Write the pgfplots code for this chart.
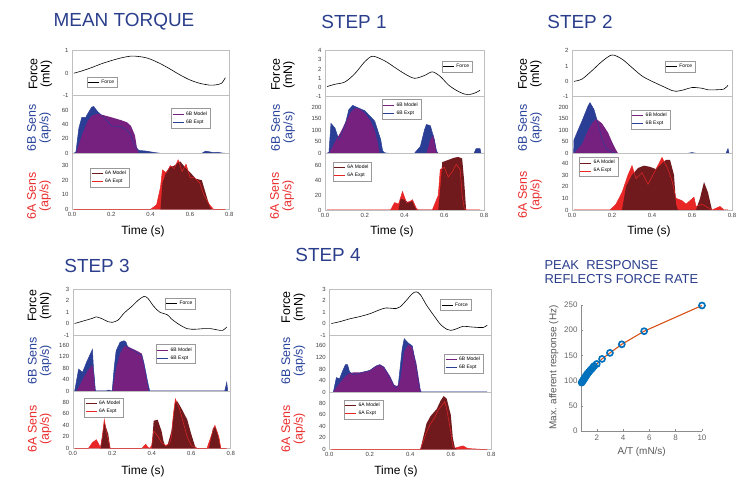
\documentclass[border=0pt]{standalone}
\usepackage{fontspec}
\setmainfont{Liberation Sans}
\usepackage{pgfplots}
\pgfplotsset{compat=1.18}
\usepackage{pgfplotstable}

\definecolor{titleblue}{RGB}{42,62,140}
\definecolor{expB}{RGB}{42,62,150}
\definecolor{modB}{RGB}{118,32,128}
\definecolor{expA}{RGB}{232,38,38}
\definecolor{modA}{RGB}{112,26,30}
\definecolor{labB}{RGB}{40,66,155}
\definecolor{labA}{RGB}{235,45,45}
\definecolor{mblue}{RGB}{0,114,189}
\definecolor{morange}{RGB}{217,83,25}

% ---- MEAN TORQUE
\pgfplotstableread[row sep=\\]{x y\\ 0.01 0\\ 0.05 0.1\\ 0.1 0.25\\ 0.15 0.42\\ 0.2 0.56\\ 0.25 0.68\\ 0.3 0.76\\ 0.33 0.75\\ 0.37 0.7\\ 0.4 0.62\\ 0.45 0.42\\ 0.5 0.18\\ 0.55 -0.08\\ 0.6 -0.3\\ 0.65 -0.45\\ 0.7 -0.53\\ 0.73 -0.52\\ 0.76 -0.45\\ 0.78 -0.2\\}\fA
\pgfplotstableread[row sep=\\]{x y\\ 0.01 0\\ 0.02 2\\ 0.035 35\\ 0.05 50\\ 0.07 50\\ 0.08 55\\ 0.1 64\\ 0.11 65\\ 0.13 58\\ 0.15 53\\ 0.18 45\\ 0.2 38\\ 0.25 37\\ 0.28 32\\ 0.3 25\\ 0.32 10\\ 0.34 4\\ 0.38 3\\ 0.42 1\\ 0.45 0\\ 0.66 0\\ 0.68 3\\ 0.7 2\\ 0.72 1\\ 0.74 1.5\\ 0.76 0.5\\ 0.78 0\\}\bexA
\pgfplotstableread[row sep=\\]{x y\\ 0.02 0\\ 0.05 25\\ 0.08 45\\ 0.1 52\\ 0.13 55\\ 0.16 53\\ 0.2 50\\ 0.25 46\\ 0.28 43\\ 0.3 38\\ 0.32 25\\ 0.33 8\\ 0.34 0\\}\bmoA
\pgfplotstableread[row sep=\\]{x y\\ 0.01 0\\ 0.4 0\\ 0.43 3\\ 0.45 15\\ 0.46 27\\ 0.48 25\\ 0.5 30\\ 0.52 28\\ 0.54 34\\ 0.56 26\\ 0.58 31\\ 0.6 22\\ 0.62 22\\ 0.65 18\\ 0.67 10\\ 0.7 3\\ 0.72 0\\ 0.78 0\\}\aexA
\pgfplotstableread[row sep=\\]{x y\\ 0.45 0\\ 0.46 18\\ 0.48 26\\ 0.5 29\\ 0.52 30\\ 0.55 33\\ 0.58 28\\ 0.6 25.5\\ 0.63 21\\ 0.66 20\\ 0.68 11\\ 0.7 2\\ 0.71 0\\}\amoA

% ---- STEP 1
\pgfplotstableread[row sep=\\]{x y\\ 0.01 0.1\\ 0.05 0.35\\ 0.1 0.6\\ 0.15 1.5\\ 0.2 2.8\\ 0.24 3.4\\ 0.3 2.9\\ 0.35 2.2\\ 0.4 1.5\\ 0.45 1.0\\ 0.5 1.3\\ 0.54 1.7\\ 0.58 1.2\\ 0.62 0.3\\ 0.66 -0.3\\ 0.7 -0.7\\ 0.73 -0.75\\ 0.76 -0.55\\ 0.78 -0.3\\}\fB
\pgfplotstableread[row sep=\\]{x y\\ 0.01 0\\ 0.02 5\\ 0.03 130\\ 0.05 110\\ 0.07 58\\ 0.1 120\\ 0.12 190\\ 0.14 208\\ 0.16 200\\ 0.2 185\\ 0.25 140\\ 0.28 60\\ 0.29 10\\ 0.3 2\\ 0.32 0\\ 0.45 0\\ 0.48 30\\ 0.5 100\\ 0.51 125\\ 0.53 120\\ 0.55 60\\ 0.56 10\\ 0.57 0\\ 0.75 0\\ 0.76 20\\ 0.78 20\\ 0.785 0\\}\bexB
\pgfplotstableread[row sep=\\]{x y\\ 0.02 0\\ 0.05 50\\ 0.08 94\\ 0.1 130\\ 0.13 180\\ 0.15 195\\ 0.17 195\\ 0.2 175\\ 0.23 140\\ 0.25 100\\ 0.265 50\\ 0.275 0\\ 0.51 0\\ 0.53 60\\ 0.545 80\\ 0.555 40\\ 0.565 0\\}\bmoB
\pgfplotstableread[row sep=\\]{x y\\ 0.01 0\\ 0.33 0\\ 0.35 10\\ 0.37 8\\ 0.39 25\\ 0.41 10\\ 0.43 12\\ 0.44 14\\ 0.46 2\\ 0.47 0\\ 0.54 0\\ 0.57 20\\ 0.58 55\\ 0.6 58\\ 0.62 45\\ 0.64 52\\ 0.66 62\\ 0.68 55\\ 0.69 20\\ 0.7 3\\ 0.71 0\\ 0.78 0\\}\aexB
\pgfplotstableread[row sep=\\]{x y\\ 0.37 0\\ 0.38 15\\ 0.4 14\\ 0.42 10\\ 0.44 12\\ 0.45 5\\ 0.46 0\\ 0.57 0\\ 0.58 30\\ 0.59 65\\ 0.62 68\\ 0.65 71\\ 0.67 72\\ 0.69 70\\ 0.7 40\\ 0.71 0\\}\amoB

% ---- STEP 2
\pgfplotstableread[row sep=\\]{x y\\ 0.01 0\\ 0.05 0.15\\ 0.1 0.7\\ 0.15 1.3\\ 0.2 1.72\\ 0.25 1.45\\ 0.3 0.9\\ 0.35 0.35\\ 0.4 0\\ 0.45 -0.3\\ 0.5 -0.6\\ 0.52 -0.65\\ 0.56 -0.55\\ 0.6 -0.4\\ 0.65 -0.45\\ 0.68 -0.55\\ 0.72 -0.55\\ 0.76 -0.5\\ 0.78 -0.25\\}\fC
\pgfplotstableread[row sep=\\]{x y\\ 0.008 0\\ 0.01 58\\ 0.03 100\\ 0.05 140\\ 0.08 205\\ 0.09 220\\ 0.11 190\\ 0.13 130\\ 0.15 60\\ 0.17 20\\ 0.2 5\\ 0.22 0\\ 0.58 0\\ 0.6 3\\ 0.62 0\\ 0.77 0\\ 0.78 20\\ 0.785 0\\}\bexC
\pgfplotstableread[row sep=\\]{x y\\ 0.01 0\\ 0.05 40\\ 0.08 100\\ 0.1 130\\ 0.12 150\\ 0.15 130\\ 0.18 90\\ 0.2 50\\ 0.22 15\\ 0.23 0\\}\bmoC
\pgfplotstableread[row sep=\\]{x y\\ 0.01 0\\ 0.19 0\\ 0.22 5\\ 0.25 15\\ 0.28 30\\ 0.3 38\\ 0.32 27\\ 0.35 32\\ 0.38 22\\ 0.42 35\\ 0.45 45\\ 0.48 35\\ 0.5 25\\ 0.52 10\\ 0.55 8\\ 0.57 5\\ 0.59 8\\ 0.61 11\\ 0.62 3\\ 0.65 5\\ 0.7 0\\ 0.74 3\\ 0.76 0\\ 0.78 0\\}\aexC
\pgfplotstableread[row sep=\\]{x y\\ 0.25 0\\ 0.27 20\\ 0.3 30\\ 0.33 36\\ 0.36 38\\ 0.39 37\\ 0.42 35\\ 0.45 40\\ 0.47 43\\ 0.49 43\\ 0.51 30\\ 0.52 5\\ 0.53 0\\ 0.62 0\\ 0.64 10\\ 0.66 24\\ 0.68 15\\ 0.7 0\\}\amoC

% ---- STEP 3
\pgfplotstableread[row sep=\\]{x y\\ 0.01 0\\ 0.05 0.2\\ 0.1 0.45\\ 0.12 0.58\\ 0.15 0.4\\ 0.18 0.15\\ 0.2 0.1\\ 0.23 0.3\\ 0.26 0.9\\ 0.3 1.5\\ 0.33 2.0\\ 0.36 2.35\\ 0.38 2.2\\ 0.41 1.5\\ 0.44 1.0\\ 0.48 0.75\\ 0.5 0.4\\ 0.54 -0.1\\ 0.58 -0.45\\ 0.62 -0.5\\ 0.66 -0.45\\ 0.7 -0.45\\ 0.73 -0.55\\ 0.76 -0.6\\ 0.78 -0.3\\}\fD
\pgfplotstableread[row sep=\\]{x y\\ 0.01 0\\ 0.03 76\\ 0.05 65\\ 0.07 100\\ 0.1 145\\ 0.105 80\\ 0.115 0\\ 0.17 0\\ 0.18 3\\ 0.2 0\\ 0.21 80\\ 0.22 140\\ 0.24 170\\ 0.26 175\\ 0.27 170\\ 0.28 150\\ 0.3 145\\ 0.32 135\\ 0.35 125\\ 0.36 100\\ 0.38 30\\ 0.39 0\\ 0.77 0\\ 0.78 30\\ 0.785 0\\}\bexD
\pgfplotstableread[row sep=\\]{x y\\ 0.02 0\\ 0.05 40\\ 0.08 75\\ 0.1 90\\ 0.108 60\\ 0.115 0\\ 0.2 0\\ 0.22 80\\ 0.24 130\\ 0.26 155\\ 0.28 155\\ 0.3 148\\ 0.33 138\\ 0.35 130\\ 0.37 60\\ 0.385 0\\}\bmoD
\pgfplotstableread[row sep=\\]{x y\\ 0.01 0\\ 0.08 0\\ 0.1 10\\ 0.12 15\\ 0.135 5\\ 0.14 0\\ 0.15 20\\ 0.16 50\\ 0.17 30\\ 0.18 15\\ 0.19 0\\ 0.35 0\\ 0.37 7\\ 0.38 2\\ 0.39 0\\ 0.4 5\\ 0.41 30\\ 0.43 22\\ 0.45 10\\ 0.47 5\\ 0.49 8\\ 0.5 20\\ 0.51 60\\ 0.52 86\\ 0.54 70\\ 0.56 45\\ 0.58 20\\ 0.6 5\\ 0.63 0\\ 0.68 0\\ 0.7 20\\ 0.72 40\\ 0.74 20\\ 0.75 0\\ 0.78 0\\}\aexD
\pgfplotstableread[row sep=\\]{x y\\ 0.14 0\\ 0.16 45\\ 0.17 35\\ 0.18 25\\ 0.19 0\\ 0.4 0\\ 0.41 48\\ 0.43 50\\ 0.45 30\\ 0.46 12\\ 0.47 3\\ 0.48 5\\ 0.5 30\\ 0.52 80\\ 0.53 82\\ 0.55 70\\ 0.58 50\\ 0.6 25\\ 0.62 3\\ 0.63 0\\ 0.69 0\\ 0.71 35\\ 0.72 38\\ 0.73 30\\ 0.75 0\\}\amoD

% ---- STEP 4
\pgfplotstableread[row sep=\\]{x y\\ 0.01 0\\ 0.05 0.15\\ 0.1 0.4\\ 0.15 0.6\\ 0.2 0.85\\ 0.25 1.2\\ 0.28 1.35\\ 0.33 1.3\\ 0.35 1.45\\ 0.38 2.0\\ 0.41 2.6\\ 0.43 2.75\\ 0.45 2.5\\ 0.48 1.6\\ 0.52 0.6\\ 0.55 -0.1\\ 0.58 -0.5\\ 0.6 -0.6\\ 0.63 -0.45\\ 0.66 -0.25\\ 0.7 -0.3\\ 0.74 -0.35\\ 0.76 -0.35\\ 0.78 -0.15\\}\fE
\pgfplotstableread[row sep=\\]{x y\\ 0.02 0\\ 0.035 50\\ 0.05 45\\ 0.07 80\\ 0.08 95\\ 0.09 95\\ 0.1 70\\ 0.12 60\\ 0.15 65\\ 0.2 75\\ 0.23 90\\ 0.25 95\\ 0.27 85\\ 0.3 50\\ 0.32 20\\ 0.33 15\\ 0.34 20\\ 0.36 150\\ 0.37 185\\ 0.39 170\\ 0.41 160\\ 0.43 80\\ 0.45 0\\ 0.78 0\\}\bexE
\pgfplotstableread[row sep=\\]{x y\\ 0.02 0\\ 0.05 30\\ 0.08 55\\ 0.1 65\\ 0.12 68\\ 0.15 68\\ 0.2 75\\ 0.23 90\\ 0.25 95\\ 0.27 88\\ 0.3 55\\ 0.32 25\\ 0.335 20\\ 0.35 40\\ 0.37 140\\ 0.39 165\\ 0.41 155\\ 0.43 100\\ 0.45 10\\ 0.455 0\\}\bmoE
\pgfplotstableread[row sep=\\]{x y\\ 0.01 0\\ 0.45 0\\ 0.48 30\\ 0.5 45\\ 0.52 55\\ 0.54 70\\ 0.56 78\\ 0.57 83\\ 0.58 70\\ 0.6 30\\ 0.61 5\\ 0.62 2\\ 0.66 6\\ 0.68 2\\ 0.7 1\\ 0.75 0\\ 0.78 0\\}\aexE
\pgfplotstableread[row sep=\\]{x y\\ 0.45 0\\ 0.48 45\\ 0.5 58\\ 0.53 70\\ 0.55 85\\ 0.565 93\\ 0.58 88\\ 0.6 60\\ 0.61 20\\ 0.62 3\\ 0.63 0\\}\amoE

% ---- peak response
\pgfplotstableread[row sep=\\]{x y\\ 0.85 96\\ 0.9 98\\ 0.95 100\\ 1.0 102\\ 1.05 104\\ 1.1 106\\ 1.15 108\\ 1.2 110\\ 1.25 112\\ 1.3 114\\ 1.4 117\\ 1.5 120\\ 1.6 123\\ 1.7 126\\ 1.8 129\\ 2.0 133\\ 2.4 143\\ 3.0 155\\ 3.9 172\\ 5.6 198\\ 10 249\\}\pk

\pgfplotsset{
  legend image code/.code={\draw[#1] (0bp,0bp) -- (11bp,0bp);},
  panel/.style={scale only axis, xmin=0, xmax=0.8,
    axis line style={draw=black!25, line width=0.4pt},
    major tick style={draw=none},
    xtick={0,0.2,0.4,0.6,0.8}, xticklabels={},
    tick label style={font=\fontsize{6}{6.5}\selectfont, text=black!75},
    /pgf/number format/assume math mode=true,
    legend cell align=left,
    legend style={draw=black!40, line width=0.3pt, fill=white,
      font=\fontsize{5}{5.5}\selectfont, inner sep=1pt, row sep=-1pt, anchor=center}},
  bottompanel/.style={panel, xticklabels={0.0,0.2,0.4,0.6,0.8}},
}

\newcommand\ylab[4]{\node[rotate=90, align=center, text=#3,
  font=\fontsize{12.5}{12.5}\selectfont] at (#1,#2) {#4};}

\begin{document}
\begin{tikzpicture}
\useasboundingbox (0,0) rectangle (743bp,480bp);
\fill[white] (0,0) rectangle (743bp,480bp);

% ================= MEAN TORQUE
\begin{axis}[panel, at={(72bp,384.3bp)}, width=157.3bp, height=45bp,
  ymin=-1, ymax=1, ytick={-1,0,1}, legend style={at={(0.19,0.30)}}]
\addplot[draw=black, line width=0.6pt, smooth] table {\fA};
\addlegendentry{Force}
\end{axis}
\begin{axis}[panel, at={(72bp,326.7bp)}, width=157.3bp, height=57.6bp,
  ymin=0, ymax=80, ytick={0,20,40,60}, legend style={at={(0.755,0.61)}}]
\addlegendimage{draw=modB, line width=0.7pt}\addlegendentry{6B Model}
\addlegendimage{draw=expB, line width=0.7pt}\addlegendentry{6B Expt}
\addplot[fill=expB, draw=none, forget plot] table {\bexA} \closedcycle;
\addplot[fill=modB, draw=none, forget plot] table {\bmoA} \closedcycle;
\addplot[draw=expB, line width=0.5pt, forget plot] table {\bexA};
\end{axis}
\begin{axis}[bottompanel, at={(72bp,270.7bp)}, width=157.3bp, height=56bp,
  ymin=0, ymax=38.5, ytick={0,10,20,30}, legend style={at={(0.24,0.57)}}]
\addlegendimage{draw=modA, line width=0.7pt}\addlegendentry{6A Model}
\addlegendimage{draw=expA, line width=0.7pt}\addlegendentry{6A Expt}
\addplot[fill=expA, draw=none, forget plot] table {\aexA} \closedcycle;
\addplot[fill=modA, draw=none, forget plot] table {\amoA} \closedcycle;
\addplot[draw=expA, line width=0.5pt, forget plot] table {\aexA};
\end{axis}

% ================= STEP 1
\begin{axis}[panel, at={(325bp,383.3bp)}, width=159bp, height=46bp,
  ymin=-1, ymax=4, ytick={-1,0,1,2,3,4}, legend style={at={(0.83,0.66)}}]
\addplot[draw=black, line width=0.6pt, smooth] table {\fB};
\addlegendentry{Force}
\end{axis}
\begin{axis}[panel, at={(325bp,326.7bp)}, width=159bp, height=56.6bp,
  ymin=0, ymax=246, ytick={0,50,100,150,200}, legend style={at={(0.48,0.78)}}]
\addlegendimage{draw=modB, line width=0.7pt}\addlegendentry{6B Model}
\addlegendimage{draw=expB, line width=0.7pt}\addlegendentry{6B Expt}
\addplot[fill=expB, draw=none, forget plot] table {\bexB} \closedcycle;
\addplot[fill=modB, draw=none, forget plot] table {\bmoB} \closedcycle;
\addplot[draw=expB, line width=0.5pt, forget plot] table {\bexB};
\end{axis}
\begin{axis}[bottompanel, at={(325bp,270bp)}, width=159bp, height=56.7bp,
  ymin=0, ymax=77, ytick={0,20,40,60}, legend style={at={(0.17,0.675)}}]
\addlegendimage{draw=modA, line width=0.7pt}\addlegendentry{6A Model}
\addlegendimage{draw=expA, line width=0.7pt}\addlegendentry{6A Expt}
\addplot[fill=expA, draw=none, forget plot] table {\aexB} \closedcycle;
\addplot[fill=modA, draw=none, forget plot] table {\amoB} \closedcycle;
\addplot[draw=expA, line width=0.5pt, forget plot] table {\aexB};
\end{axis}

% ================= STEP 2
\begin{axis}[panel, at={(572bp,383.3bp)}, width=160bp, height=46bp,
  ymin=-1, ymax=2, ytick={-1,0,1,2}, legend style={at={(0.675,0.66)}}]
\addplot[draw=black, line width=0.6pt, smooth] table {\fC};
\addlegendentry{Force}
\end{axis}
\begin{axis}[panel, at={(572bp,326.7bp)}, width=160bp, height=56.6bp,
  ymin=0, ymax=246, ytick={0,50,100,150,200}, legend style={at={(0.49,0.60)}}]
\addlegendimage{draw=modB, line width=0.7pt}\addlegendentry{6B Model}
\addlegendimage{draw=expB, line width=0.7pt}\addlegendentry{6B Expt}
\addplot[fill=expB, draw=none, forget plot] table {\bexC} \closedcycle;
\addplot[fill=modB, draw=none, forget plot] table {\bmoC} \closedcycle;
\addplot[draw=expB, line width=0.5pt, forget plot] table {\bexC};
\end{axis}
\begin{axis}[bottompanel, at={(572bp,270bp)}, width=160bp, height=56.7bp,
  ymin=0, ymax=48.6, ytick={0,10,20,30,40}, legend style={at={(0.165,0.76)}}]
\addlegendimage{draw=modA, line width=0.7pt}\addlegendentry{6A Model}
\addlegendimage{draw=expA, line width=0.7pt}\addlegendentry{6A Expt}
\addplot[fill=expA, draw=none, forget plot] table {\aexC} \closedcycle;
\addplot[fill=modA, draw=none, forget plot] table {\amoC} \closedcycle;
\addplot[draw=expA, line width=0.5pt, forget plot] table {\aexC};
\end{axis}

% ================= STEP 3
\begin{axis}[panel, at={(72.7bp,145bp)}, width=158bp, height=46bp,
  ymin=-1, ymax=3, ytick={-1,0,1,2,3}, legend style={at={(0.68,0.68)}}]
\addplot[draw=black, line width=0.6pt, smooth] table {\fD};
\addlegendentry{Force}
\end{axis}
\begin{axis}[panel, at={(72.7bp,89bp)}, width=158bp, height=56bp,
  ymin=0, ymax=195, ytick={0,40,80,120,160}, legend style={at={(0.65,0.66)}}]
\addlegendimage{draw=modB, line width=0.7pt}\addlegendentry{6B Model}
\addlegendimage{draw=expB, line width=0.7pt}\addlegendentry{6B Expt}
\addplot[fill=expB, draw=none, forget plot] table {\bexD} \closedcycle;
\addplot[fill=modB, draw=none, forget plot] table {\bmoD} \closedcycle;
\addplot[draw=expB, line width=0.5pt, forget plot] table {\bexD};
\end{axis}
\begin{axis}[bottompanel, at={(72.7bp,31.7bp)}, width=158bp, height=57.3bp,
  ymin=0, ymax=100, ytick={0,20,40,60,80}, legend style={at={(0.197,0.71)}}]
\addlegendimage{draw=modA, line width=0.7pt}\addlegendentry{6A Model}
\addlegendimage{draw=expA, line width=0.7pt}\addlegendentry{6A Expt}
\addplot[fill=expA, draw=none, forget plot] table {\aexD} \closedcycle;
\addplot[fill=modA, draw=none, forget plot] table {\amoD} \closedcycle;
\addplot[draw=expA, line width=0.5pt, forget plot] table {\aexD};
\end{axis}

% ================= STEP 4
\begin{axis}[panel, at={(329.3bp,145bp)}, width=162bp, height=46bp,
  ymin=-1, ymax=3, ytick={-1,0,1,2,3}, legend style={at={(0.78,0.65)}}]
\addplot[draw=black, line width=0.6pt, smooth] table {\fE};
\addlegendentry{Force}
\end{axis}
\begin{axis}[panel, at={(329.3bp,88bp)}, width=162bp, height=57bp,
  ymin=0, ymax=198, ytick={0,40,80,120,160}, legend style={at={(0.83,0.50)}}]
\addlegendimage{draw=modB, line width=0.7pt}\addlegendentry{6B Model}
\addlegendimage{draw=expB, line width=0.7pt}\addlegendentry{6B Expt}
\addplot[fill=expB, draw=none, forget plot] table {\bexE} \closedcycle;
\addplot[fill=modB, draw=none, forget plot] table {\bmoE} \closedcycle;
\addplot[draw=expB, line width=0.5pt, forget plot] table {\bexE};
\end{axis}
\begin{axis}[bottompanel, at={(329.3bp,30.7bp)}, width=162bp, height=57.3bp,
  ymin=0, ymax=100, ytick={0,20,40,60,80}, legend style={at={(0.21,0.70)}}]
\addlegendimage{draw=modA, line width=0.7pt}\addlegendentry{6A Model}
\addlegendimage{draw=expA, line width=0.7pt}\addlegendentry{6A Expt}
\addplot[fill=expA, draw=none, forget plot] table {\aexE} \closedcycle;
\addplot[fill=modA, draw=none, forget plot] table {\amoE} \closedcycle;
\addplot[draw=expA, line width=0.5pt, forget plot] table {\aexE};
\end{axis}

% ================= peak response
\begin{axis}[scale only axis, at={(581bp,49bp)}, width=121bp, height=126bp,
  xmin=0.8, xmax=10, ymin=0, ymax=250,
  axis x line*=bottom, axis y line*=left,
  axis line style={black!45, line width=0.4pt},
  xtick={2,4,6,8,10}, ytick={0,50,100,150,200,250},
  tick style={black!45, line width=0.4pt}, major tick length=2bp, tick align=inside,
  tick label style={font=\fontsize{8}{9}\selectfont, text=black!60},
  /pgf/number format/assume math mode=true, clip=false]
\addplot[only marks, mark=o, mark size=3bp, mblue, line width=1.7pt] table {\pk};
\addplot[morange, line width=1.1pt] table {\pk};
\end{axis}

% ================= text
\begin{scope}[x=1bp, y=1bp]
\node[text=titleblue, font=\fontsize{19}{19}\selectfont] at (124,458.3) {MEAN TORQUE};
\node[text=titleblue, font=\fontsize{19}{19}\selectfont] at (354,458.3) {STEP 1};
\node[text=titleblue, font=\fontsize{19}{19}\selectfont] at (580,458.3) {STEP 2};
\node[text=titleblue, font=\fontsize{19}{19}\selectfont] at (97,214) {STEP 3};
\node[text=titleblue, font=\fontsize{19}{19}\selectfont] at (328,225) {STEP 4};
\node[text=titleblue, font=\fontsize{13}{14.3}\selectfont, align=left, anchor=west]
  at (541,208) {PEAK\ \ RESPONSE\\REFLECTS FORCE RATE};

\ylab{40.5}{406}{black}{Force\\(mN)}
\ylab{39}{352}{labB}{6B Sens\\(ap/s)}
\ylab{39}{284}{labA}{6A Sens\\(ap/s)}
\ylab{283}{405.3}{black}{Force\\(mN)}
\ylab{283}{352.5}{labB}{6B Sens\\(ap/s)}
\ylab{282}{284.2}{labA}{6A Sens\\(ap/s)}
\ylab{530}{406}{black}{Force\\(mN)}
\ylab{530}{352}{labB}{6B Sens\\(ap/s)}
\ylab{530}{285}{labA}{6A Sens\\(ap/s)}
\ylab{39.7}{174.2}{black}{Force\\(mN)}
\ylab{39.7}{119.2}{labB}{6B Sens\\(ap/s)}
\ylab{39.7}{51}{labA}{6A Sens\\(ap/s)}
\ylab{293.3}{172.5}{black}{Force\\(mN)}
\ylab{293.3}{119}{labB}{6B Sens\\(ap/s)}
\ylab{293.3}{51}{labA}{6A Sens\\(ap/s)}

\node[font=\fontsize{12}{12}\selectfont] at (143,249) {Time (s)};
\node[font=\fontsize{12}{12}\selectfont] at (392,249) {Time (s)};
\node[font=\fontsize{12}{12}\selectfont] at (649,249) {Time (s)};
\node[font=\fontsize{12}{12}\selectfont] at (143,8.5) {Time (s)};
\node[font=\fontsize{12}{12}\selectfont] at (396,8.5) {Time (s)};

\node[rotate=90, text=black!65, font=\fontsize{10}{10}\selectfont] at (553.7,112.5) {Max. afferent response (Hz)};
\node[text=black!65, font=\fontsize{10}{10}\selectfont] at (641.7,28.3) {A/T (mN/s)};
\end{scope}
\end{tikzpicture}
\end{document}
